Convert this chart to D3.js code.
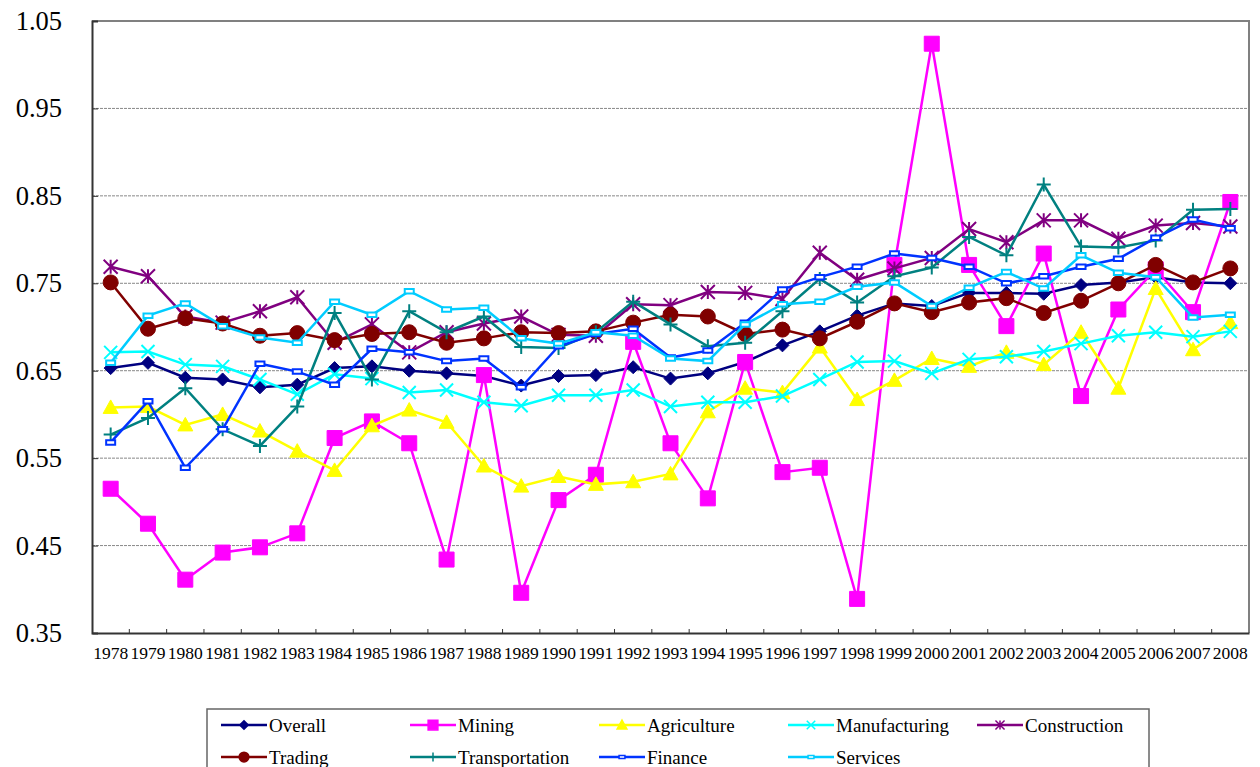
<!DOCTYPE html>
<html>
<head>
<meta charset="utf-8">
<script src="https://cdn.jsdelivr.net/npm/d3@7"></script>
<style>
  body { margin: 0; background: #fff; }
  svg text { font-family: "Liberation Serif", "Times New Roman", serif; fill: #000; }
</style>
</head>
<body>
<svg id="chart" width="1260" height="767"></svg>
<script>
var years = d3.range(1978, 2009).map(String);
var yTicks = [0.35, 0.45, 0.55, 0.65, 0.75, 0.85, 0.95, 1.05];

var overall = [0.653,0.659,0.642,0.640,0.631,0.634,0.653,0.655,0.650,0.647,0.644,0.633,0.644,0.645,0.654,0.641,0.647,0.660,0.679,0.695,0.713,0.727,0.724,0.739,0.739,0.738,0.748,0.751,0.757,0.751,0.750];
var mining = [0.515,0.475,0.411,0.442,0.448,0.464,0.573,0.592,0.567,0.434,0.645,0.396,0.502,0.531,0.683,0.567,0.504,0.660,0.534,0.539,0.389,0.771,1.024,0.771,0.701,0.784,0.621,0.720,0.766,0.717,0.843];
var agriculture = [0.608,0.609,0.588,0.600,0.581,0.558,0.536,0.587,0.605,0.591,0.541,0.518,0.529,0.520,0.523,0.532,0.603,0.630,0.625,0.677,0.617,0.639,0.664,0.655,0.671,0.657,0.694,0.630,0.744,0.674,0.705];
var manufacturing = [0.671,0.672,0.657,0.655,0.640,0.623,0.646,0.641,0.625,0.628,0.614,0.610,0.622,0.622,0.628,0.609,0.614,0.614,0.621,0.640,0.660,0.661,0.647,0.663,0.666,0.672,0.681,0.690,0.694,0.689,0.695];
var construction = [0.769,0.758,0.712,0.705,0.718,0.734,0.682,0.703,0.671,0.694,0.704,0.712,0.691,0.690,0.726,0.725,0.740,0.739,0.732,0.785,0.754,0.767,0.779,0.812,0.797,0.822,0.822,0.801,0.816,0.819,0.815];
var trading = [0.751,0.698,0.710,0.704,0.690,0.693,0.685,0.692,0.694,0.682,0.687,0.694,0.693,0.695,0.705,0.714,0.712,0.692,0.697,0.687,0.706,0.727,0.717,0.728,0.733,0.716,0.730,0.750,0.771,0.751,0.767];
var transportation = [0.577,0.596,0.630,0.583,0.564,0.609,0.716,0.640,0.718,0.694,0.712,0.677,0.676,0.694,0.729,0.703,0.678,0.682,0.718,0.755,0.728,0.758,0.768,0.803,0.782,0.863,0.792,0.791,0.799,0.834,0.835];
var finance = [0.568,0.615,0.539,0.583,0.658,0.649,0.634,0.675,0.671,0.661,0.664,0.631,0.678,0.692,0.698,0.665,0.673,0.705,0.743,0.757,0.769,0.784,0.779,0.769,0.750,0.758,0.769,0.778,0.802,0.823,0.813];
var services = [0.659,0.713,0.727,0.701,0.688,0.682,0.729,0.714,0.741,0.720,0.722,0.687,0.681,0.694,0.690,0.664,0.661,0.703,0.726,0.729,0.746,0.751,0.724,0.745,0.763,0.744,0.782,0.762,0.757,0.711,0.714];

var seriesNames = ["Overall","Mining","Agriculture","Manufacturing","Construction","Trading","Transportation","Finance","Services"];
var seriesValues = [overall, mining, agriculture, manufacturing, construction, trading, transportation, finance, services];
var seriesColors = ["#000080","#FF00FF","#FFFF00","#00FFFF","#800080","#800000","#008080","#0033FF","#00CCFF"];
var seriesMarkers = ["diamond","square","triangle","x","star","circle","plus","dash","dash"];

var FONT = "'Liberation Serif', 'Times New Roman', serif";

var svg = d3.select("#chart");
var margin = {left: 92, top: 21, right: 11, bottom: 134};
var width = 1260 - margin.left - margin.right;
var height = 767 - margin.top - margin.bottom;

var x = d3.scaleBand().domain(years).range([0, width]);
var y = d3.scaleLinear().domain([0.35, 1.05]).range([height, 0]);

var g = svg.append("g").attr("transform", "translate(" + margin.left + "," + margin.top + ")");

// gridlines
g.selectAll("line.grid")
    .data(yTicks.slice(1, -1))
    .enter().append("line")
    .attr("class", "grid")
    .attr("x1", 0).attr("x2", width)
    .attr("y1", function(d){ return y(d); })
    .attr("y2", function(d){ return y(d); })
    .attr("stroke", "#888")
    .attr("stroke-width", 1)
    .attr("stroke-dasharray", "3,1");

// plot border top/right
g.append("path")
    .attr("d", "M0,0H" + width + "V" + height)
    .attr("fill", "none")
    .attr("stroke", "#808080")
    .attr("stroke-width", 2);

// y axis
var yAxis = g.append("g")
    .call(d3.axisLeft(y).tickValues(yTicks).tickSize(-6).tickPadding(30).tickFormat(d3.format(".2f")));
yAxis.attr("font-family", FONT);
yAxis.select(".domain").attr("stroke", "#333").attr("stroke-width", 2);
yAxis.selectAll(".tick line").attr("stroke", "#333");
yAxis.selectAll("text").attr("font-size", 26.5).attr("x", -30).attr("font-family", FONT);

// x axis
var xAxis = g.append("g")
    .attr("transform", "translate(0," + height + ")")
    .call(d3.axisBottom(x).tickSize(0).tickPadding(14));
xAxis.attr("font-family", FONT);
xAxis.select(".domain").attr("stroke", "#333").attr("stroke-width", 2);
xAxis.selectAll("text").attr("font-size", 17.5).attr("font-family", FONT);
g.selectAll("line.xtick")
    .data(years.slice(1))
    .enter().append("line")
    .attr("class", "xtick")
    .attr("x1", function(d){ return x(d); })
    .attr("x2", function(d){ return x(d); })
    .attr("y1", height).attr("y2", height - 4)
    .attr("stroke", "#333");

function markerPath(type, s) {
    var h = s / 2;
    if (type == "diamond") return "M0," + (-h) + "L" + h + ",0L0," + h + "L" + (-h) + ",0Z";
    if (type == "square") return "M" + (-h) + "," + (-h) + "H" + h + "V" + h + "H" + (-h) + "Z";
    if (type == "triangle") return "M0," + (-h) + "L" + h + "," + (h * 0.8) + "L" + (-h) + "," + (h * 0.8) + "Z";
    if (type == "x") return "M" + (-h) + "," + (-h) + "L" + h + "," + h + "M" + h + "," + (-h) + "L" + (-h) + "," + h;
    if (type == "plus") return "M0," + (-h) + "V" + h + "M" + (-h) + ",0H" + h;
    if (type == "star") return "M" + (-h) + "," + (-h) + "L" + h + "," + h + "M" + h + "," + (-h) + "L" + (-h) + "," + h + "M0," + (-h) + "V" + h;
    if (type == "circle") return d3.symbol().type(d3.symbolCircle).size(Math.PI * h * h)();
    if (type == "dash") return "M" + (-h) + "," + (-h / 2) + "H" + h + "V" + (h / 2) + "H" + (-h) + "Z";
    return "";
}
var markerSize = {diamond: 13, square: 15, triangle: 15, x: 13, plus: 14, star: 14, circle: 15, dash: 9};
var filled = {diamond: true, square: true, triangle: true, circle: true, dash: false, x: false, plus: false, star: false};

var line = d3.line()
    .x(function(d, i){ return x(years[i]) + x.bandwidth() / 2; })
    .y(function(d){ return y(d); });

seriesValues.forEach(function(vals, k) {
    var color = seriesColors[k];
    var type = seriesMarkers[k];
    var sg = g.append("g").attr("class", "series");
    sg.append("path")
        .datum(vals)
        .attr("d", line)
        .attr("fill", "none")
        .attr("stroke", color)
        .attr("stroke-width", 2.5);
    sg.selectAll("path.marker")
        .data(vals)
        .enter().append("path")
        .attr("class", "marker")
        .attr("transform", function(d, i){ return "translate(" + (x(years[i]) + x.bandwidth() / 2) + "," + y(d) + ")"; })
        .attr("d", markerPath(type, markerSize[type]))
        .attr("fill", filled[type] ? color : "#fff")
        .attr("stroke", color)
        .attr("stroke-width", filled[type] ? 1 : 2);
});

// legend
var legend = svg.append("g").attr("transform", "translate(207,709)");
legend.append("rect")
    .attr("x", 0).attr("y", 0)
    .attr("width", 942).attr("height", 70)
    .attr("fill", "#fff")
    .attr("stroke", "#666")
    .attr("stroke-width", 1.5);
var colX = [14, 203, 392, 581, 770];
var items = legend.selectAll("g.item")
    .data(seriesNames)
    .enter().append("g")
    .attr("class", "item")
    .attr("transform", function(d, i){ return "translate(" + colX[i % 5] + "," + (i < 5 ? 16 : 48) + ")"; });
items.append("line")
    .attr("x1", 0).attr("x2", 46)
    .attr("stroke", function(d, i){ return seriesColors[i]; })
    .attr("stroke-width", 2.5);
items.append("path")
    .attr("transform", "translate(23,0)")
    .attr("d", function(d, i){ return markerPath(seriesMarkers[i], markerSize[seriesMarkers[i]] * 0.65); })
    .attr("fill", function(d, i){ return filled[seriesMarkers[i]] ? seriesColors[i] : "#fff"; })
    .attr("stroke", function(d, i){ return seriesColors[i]; })
    .attr("stroke-width", 1.5);
items.append("text")
    .attr("x", 48)
    .attr("dy", "0.35em")
    .attr("font-size", 19)
    .attr("font-family", FONT)
    .text(function(d){ return d; });
</script>
</body>
</html>
